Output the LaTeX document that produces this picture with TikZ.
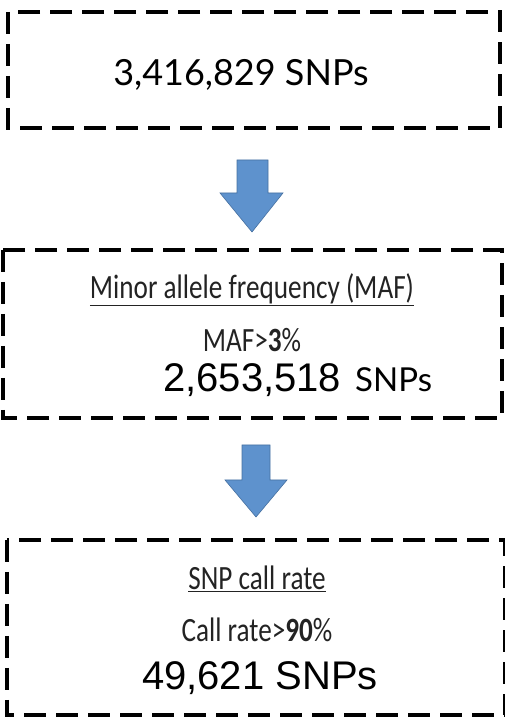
\documentclass[tikz,border=0pt]{standalone}
\usepackage{fontspec}
\setmainfont{Lato}
\newfontfamily\calib{Carlito}
\newfontfamily\arialish{Liberation Sans}
\definecolor{arrowblue}{RGB}{94,146,205}
\definecolor{arrowedge}{RGB}{70,112,160}
\definecolor{captiongray}{RGB}{35,35,35}
\tikzset{
  stagebox/.style={draw=black, line width=4.6pt, dash pattern=on 22pt off 10pt},
  downarrow/.style={fill=arrowblue, draw=arrowedge, line width=0.6pt, line join=miter},
  caption/.style={font=\calib\fontsize{34}{37}\selectfont, text=captiongray, inner sep=0pt, anchor=center},
  bignum/.style={font=\arialish\fontsize{40}{44}\selectfont, inner sep=0pt, anchor=center},
}
\begin{document}
\begin{tikzpicture}[x=1pt,y=1pt]
\useasboundingbox (0,0) rectangle (505,721);
% dashed stage boxes
\draw[stagebox] (8,709) rectangle (500,593);
\draw[stagebox] (3,471) rectangle (502,303);
\draw[stagebox] (7,181) rectangle (505,6);
% stage 1 text
\node[inner sep=0pt, font=\fontsize{36}{40}\selectfont] (t1) at (241,646) {3,416,829 SNPs};
% block arrow between stages 1 and 2
\draw[downarrow] (237,561) -- (268,561) -- (268,528) -- (283,528) -- (252,489) -- (220,528) -- (237,528) -- cycle;
% stage 2 text
\node[caption] (c2) at (252,431) {\scalebox{0.8}[1]{\underline{Minor allele frequency (MAF)}}};
\node[caption] (m2) at (252,381) {\scalebox{0.8}[1]{MAF>\textbf{3}\%}};
\node[bignum, anchor=west] (n2) at (163,341) {2,653,518};
\node[inner sep=0pt, anchor=west, font=\fontsize{33}{36}\selectfont] (s2) at (355,341) {SNPs};
% block arrow between stages 2 and 3
\draw[downarrow] (242,276) -- (270,276) -- (270,241) -- (287,241) -- (256,204) -- (225,241) -- (242,241) -- cycle;
% stage 3 text
\node[caption] (c3) at (257,142) {\scalebox{0.8}[1]{\underline{SNP call rate}}};
\node[caption] (m3) at (257,91) {\scalebox{0.8}[1]{Call rate>\textbf{90}\%}};
\node[bignum] (n3) at (260,43) {49,621 SNPs};
\end{tikzpicture}
\end{document}
